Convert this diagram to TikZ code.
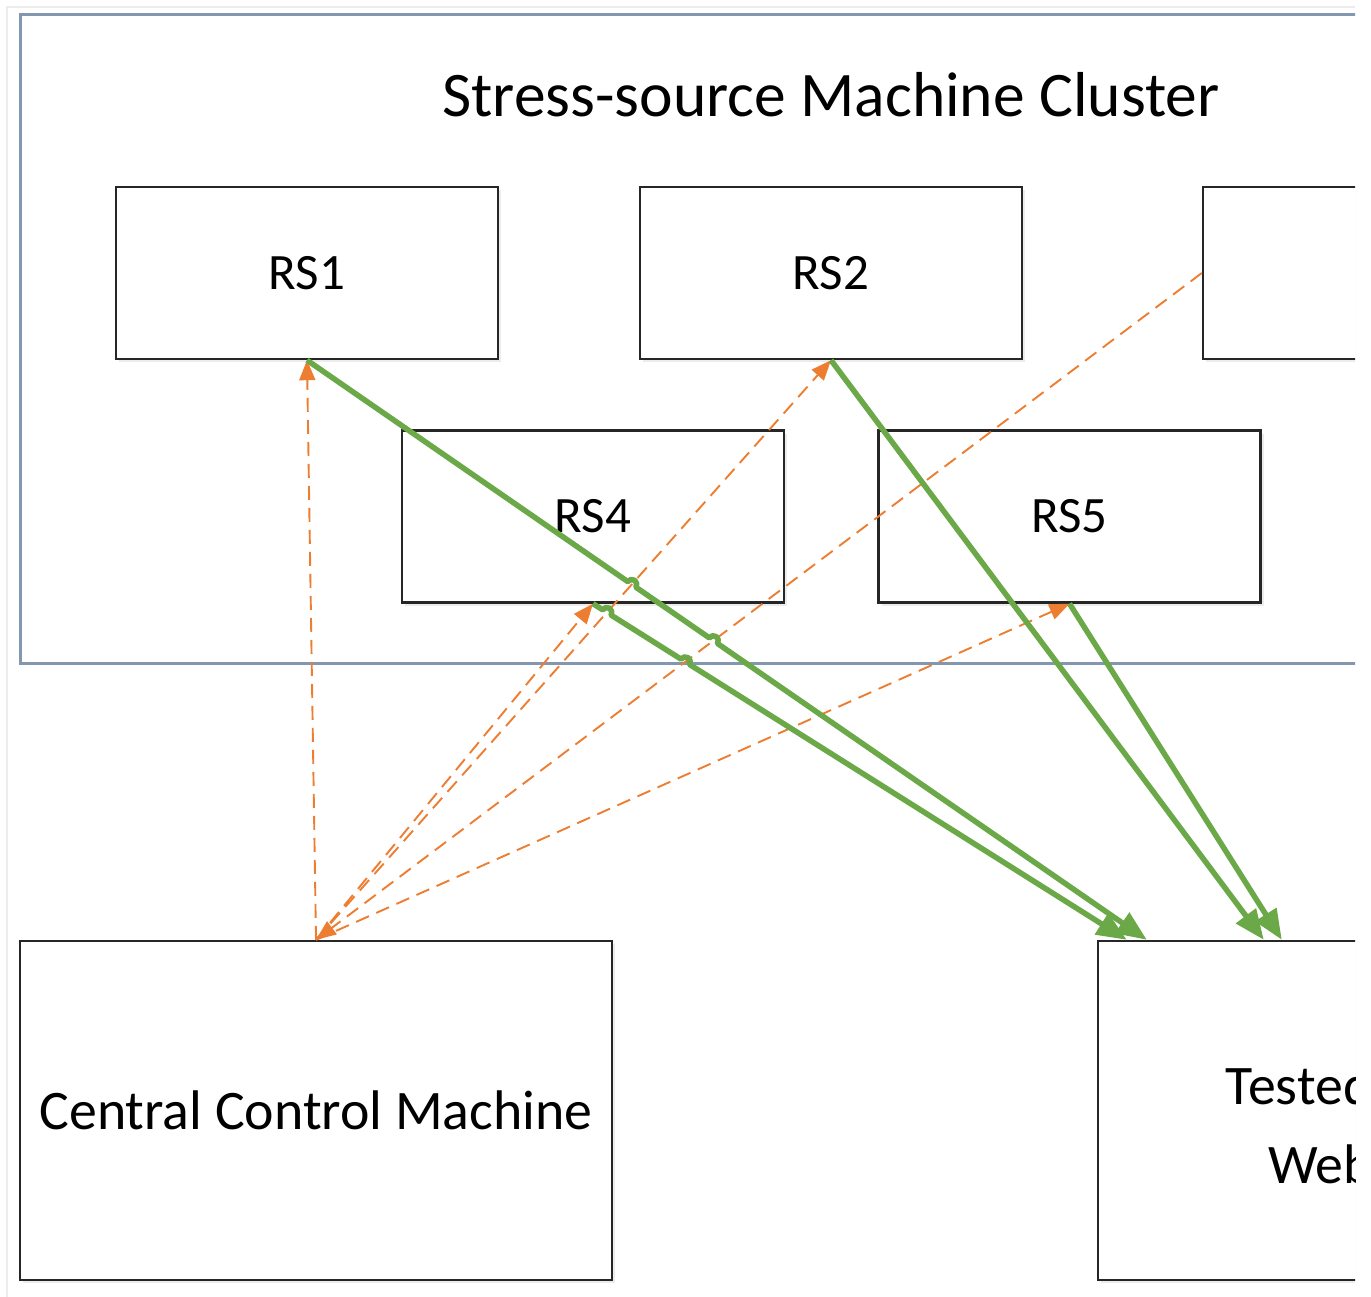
\documentclass[tikz,border=0pt]{standalone}
\usepackage{fontspec}
\setmainfont{Carlito}
\usetikzlibrary{arrows.meta,calc,intersections,shadows}

\definecolor{loadgreen}{RGB}{106,168,72}
\definecolor{ctrlorange}{RGB}{237,125,49}
\definecolor{clusterblue}{RGB}{132,151,176}

\def\hopr{5pt}

\tikzset{
  rsbox/.style={draw=black!85, line width=2.4pt, fill=white, inner sep=0pt,
    minimum width=382pt, minimum height=172pt,
    font=\fontsize{51}{61}\selectfont,
    drop shadow={opacity=0.15, shadow xshift=3pt, shadow yshift=-3pt}},
  bigbox/.style={draw=black!85, line width=2.4pt, fill=white, inner sep=0pt,
    minimum height=339pt, align=center,
    font=\fontsize{55.8}{79}\selectfont,
    drop shadow={opacity=0.15, shadow xshift=3pt, shadow yshift=-3pt}},
  ctrl/.style={draw=ctrlorange, line width=1.9pt, dash pattern=on 14pt off 8pt,
    -{Triangle[length=20pt,width=16pt]}},
  load/.style={draw=loadgreen, line width=5.5pt, line join=round,
    -{Triangle[length=30pt,width=24pt]}}
}

\begin{document}
\begin{tikzpicture}[x=1pt,y=1pt]
    \useasboundingbox (0,0) rectangle (1371,-1297);
    % screenshot edge
    \draw [gray!15, line width=1.5pt] (7,-1297) -- (7,-7) -- (1355,-7);
    \clip (0,0) rectangle (1355,-1297);

    % cluster frame
    \node [draw=clusterblue, line width=3pt, inner sep=0pt,
      minimum width=1622pt, minimum height=648pt] (cluster) at (831,-339) {};
    \node [font=\fontsize{63.5}{70}\selectfont] (title) at (831,-95) {Stress-source Machine Cluster};

    % stress sources
    \node [rsbox] (rs1) at (307,-273) {RS1};
    \node [rsbox] (rs2) at (831,-273) {RS2};
    \node [rsbox] (rs3) at (1394,-273) {RS3};
    \node [rsbox] (rs4) at (593,-516.5) {RS4};
    \node [rsbox] (rs5) at (1069.5,-516.5) {RS5};

    % central control and tested machine
    \node [bigbox, minimum width=592pt] (ccm) at (316,-1110.5) {Central Control Machine};
    \node [bigbox, minimum width=612pt, text height=146pt, text depth=0pt] (tested) at (1404,-1110.5) {Tested Machine\\Web Server\,};

    % arrow ends on the tested machine
    \coordinate (t1) at ($(tested.north west)+(50,0)$);
    \coordinate (t4) at ($(tested.north west)+(30,0)$);
    \coordinate (t2) at ($(tested.north west)+(167,0)$);
    \coordinate (t5) at ($(tested.north west)+(185,0)$);

    % control links
    \draw [ctrl] (ccm.north) -- (rs1.south);
    \draw [ctrl] (ccm.north) -- (rs4.south);
    \draw [ctrl, name path=o2] (ccm.north) -- (rs2.south);
    \draw [ctrl] (ccm.north) -- (rs5.south);
    \draw [ctrl, name path=o3] (rs3.west) -- (ccm.north);

    % hop points
    \path [name path=g1] (rs1.south) -- (t1);
    \path [name path=g4] (rs4.south) -- (t4);
    \path [name intersections={of=g1 and o2, by=h12}];
    \path [name intersections={of=g1 and o3, by=h13}];
    \path [name intersections={of=g4 and o2, by=h42}];
    \path [name intersections={of=g4 and o3, by=h43}];

    % load links
    \draw [load] let \p1=($(t1)-(rs1.south)$), \n1={atan2(\y1,\x1)} in
      (rs1.south) -- ($(h12)!\hopr!(rs1.south)$)
      arc [start angle=\n1+180, end angle=\n1, radius=\hopr]
      -- ($(h13)!\hopr!(rs1.south)$)
      arc [start angle=\n1+180, end angle=\n1, radius=\hopr] -- (t1);
    \draw [load] let \p1=($(t4)-(rs4.south)$), \n1={atan2(\y1,\x1)} in
      (rs4.south) -- ($(h42)!\hopr!(rs4.south)$)
      arc [start angle=\n1+180, end angle=\n1, radius=\hopr]
      -- ($(h43)!\hopr!(rs4.south)$)
      arc [start angle=\n1+180, end angle=\n1, radius=\hopr] -- (t4);
    \draw [load] (rs2.south) -- (t2);
    \draw [load] (rs5.south) -- (t5);

\end{tikzpicture}
\end{document}
